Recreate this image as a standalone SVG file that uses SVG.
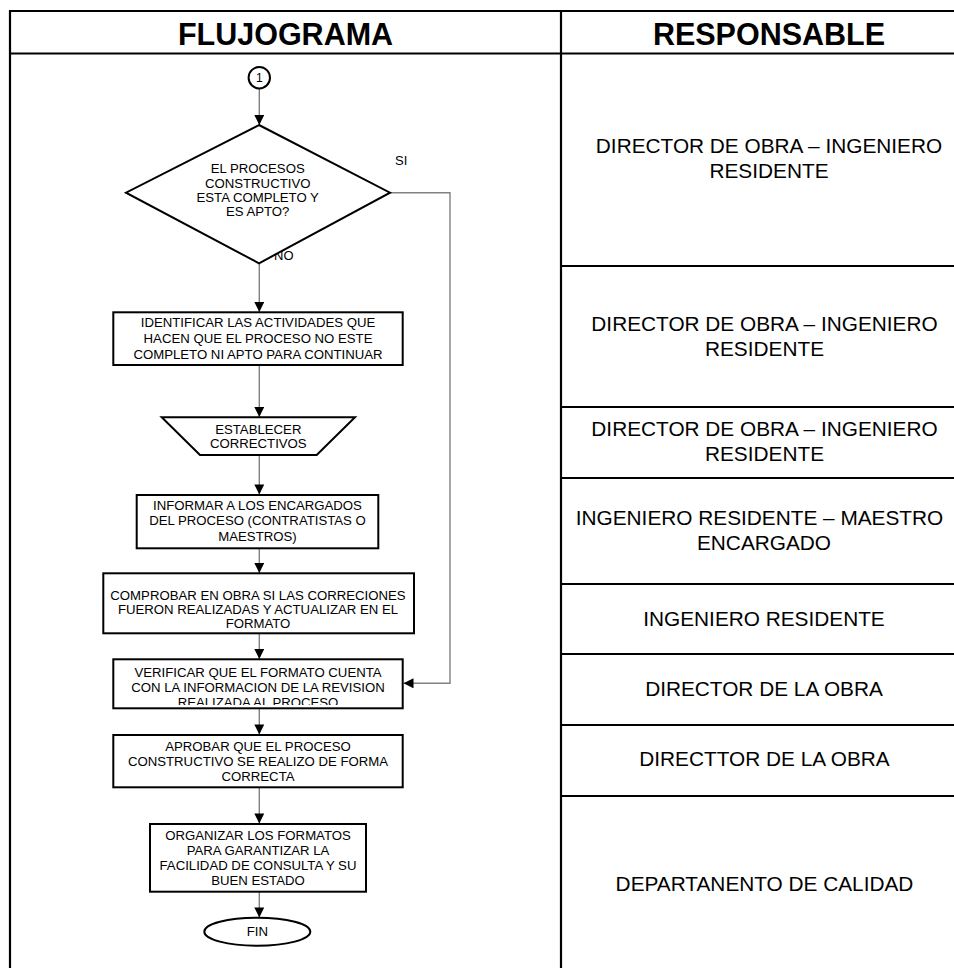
<svg xmlns="http://www.w3.org/2000/svg" width="954" height="968" viewBox="0 0 954 968">
<style>
  text { font-family: "Liberation Sans", Arial, sans-serif; fill: #000; }
  .hdr { font-size: 30.5px; font-weight: bold; text-anchor: middle; }
  .resp { font-size: 20.8px; text-anchor: middle; }
  .node { font-size: 13.2px; text-anchor: middle; }
  .lbl { font-size: 13px; }
  .grid { stroke: #000; stroke-width: 2.2; fill: none; }
  .shape { fill: #fff; stroke: #000; stroke-width: 2; }
  .conn { stroke: #808080; stroke-width: 1.4; fill: none; marker-end: url(#arrow); }
</style>
<defs>
  <marker id="arrow" viewBox="0 0 10 10" refX="10" refY="5" markerWidth="11" markerHeight="10" markerUnits="userSpaceOnUse" orient="auto">
    <path d="M0,0 L10,5 L0,10 z" fill="#000"/>
  </marker>
  <clipPath id="clipVer">
    <rect x="113" y="659" width="290" height="46"/>
  </clipPath>
</defs>

<g id="table">
  <line class="grid" x1="10" y1="11" x2="954" y2="11"/>
  <line class="grid" x1="10" y1="10" x2="10" y2="968"/>
  <line class="grid" x1="561" y1="10" x2="561" y2="968"/>
  <line class="grid" x1="10" y1="53.5" x2="954" y2="53.5"/>
  <line class="grid" x1="561" y1="266" x2="954" y2="266"/>
  <line class="grid" x1="561" y1="407" x2="954" y2="407"/>
  <line class="grid" x1="561" y1="478" x2="954" y2="478"/>
  <line class="grid" x1="561" y1="584" x2="954" y2="584"/>
  <line class="grid" x1="561" y1="654" x2="954" y2="654"/>
  <line class="grid" x1="561" y1="725" x2="954" y2="725"/>
  <line class="grid" x1="561" y1="796" x2="954" y2="796"/>
  <text class="hdr" x="285.5" y="44.5">FLUJOGRAMA</text>
  <text class="hdr" x="769" y="44.5">RESPONSABLE</text>
</g>

<g id="responsables">
  <text class="resp" x="769" y="153">DIRECTOR DE OBRA – INGENIERO</text>
  <text class="resp" x="769" y="178">RESIDENTE</text>
  <text class="resp" x="764.5" y="331">DIRECTOR DE OBRA – INGENIERO</text>
  <text class="resp" x="764.5" y="355.5">RESIDENTE</text>
  <text class="resp" x="764.5" y="436">DIRECTOR DE OBRA – INGENIERO</text>
  <text class="resp" x="764.5" y="460.5">RESIDENTE</text>
  <text class="resp" x="759.5" y="525">INGENIERO RESIDENTE – MAESTRO</text>
  <text class="resp" x="764" y="550">ENCARGADO</text>
  <text class="resp" x="764" y="626">INGENIERO RESIDENTE</text>
  <text class="resp" x="764" y="696">DIRECTOR DE LA OBRA</text>
  <text class="resp" x="764.5" y="766">DIRECTTOR DE LA OBRA</text>
  <text class="resp" x="764.5" y="890.5">DEPARTANENTO DE CALIDAD</text>
</g>

<g id="connectors">
  <line class="conn" x1="259.3" y1="88.5" x2="259.3" y2="125"/>
  <line class="conn" x1="259.3" y1="263.5" x2="259.3" y2="312"/>
  <line class="conn" x1="259.3" y1="365" x2="259.3" y2="417"/>
  <line class="conn" x1="259.3" y1="455" x2="259.3" y2="494.5"/>
  <line class="conn" x1="259.3" y1="548.5" x2="259.3" y2="573"/>
  <line class="conn" x1="259.3" y1="633.5" x2="259.3" y2="659"/>
  <line class="conn" x1="259.3" y1="708.5" x2="259.3" y2="734.5"/>
  <line class="conn" x1="259.3" y1="787.5" x2="259.3" y2="823.5"/>
  <line class="conn" x1="259.3" y1="892" x2="259.3" y2="917.5"/>
  <polyline class="conn" points="390,192.7 450,192.7 450,683.3 403.5,683.3"/>
  <text class="lbl" x="395" y="165">SI</text>
  <text class="lbl" x="274" y="260">NO</text>
</g>

<g id="start">
  <circle class="shape" cx="259.3" cy="77.7" r="10.7"/>
  <text class="node" x="259.3" y="82.3" style="font-size:12px">1</text>
</g>

<g id="decision">
  <polygon class="shape" points="259,125 390,192.7 259,263.3 126,192.7"/>
  <text class="node" x="257.7" y="173.3">EL PROCESOS</text>
  <text class="node" x="257.7" y="187.7">CONSTRUCTIVO</text>
  <text class="node" x="257.7" y="201.7">ESTA COMPLETO Y</text>
  <text class="node" x="257.7" y="216">ES APTO?</text>
</g>

<g id="identificar">
  <rect class="shape" x="113.3" y="312.3" width="289.4" height="52.7"/>
  <text class="node" x="258" y="327.3">IDENTIFICAR LAS ACTIVIDADES QUE</text>
  <text class="node" x="258" y="343.3">HACEN QUE EL PROCESO NO ESTE</text>
  <text class="node" x="258" y="358.7">COMPLETO NI APTO PARA CONTINUAR</text>
</g>

<g id="establecer">
  <polygon class="shape" points="161.7,417.3 355,417.3 316.7,455 200,455"/>
  <text class="node" x="258.3" y="434">ESTABLECER</text>
  <text class="node" x="258.3" y="448.3">CORRECTIVOS</text>
</g>

<g id="informar">
  <rect class="shape" x="136.7" y="495" width="241.6" height="53.3"/>
  <text class="node" x="257.5" y="509.5">INFORMAR A LOS ENCARGADOS</text>
  <text class="node" x="257.5" y="525">DEL PROCESO (CONTRATISTAS O</text>
  <text class="node" x="257.5" y="541">MAESTROS)</text>
</g>

<g id="comprobar">
  <rect class="shape" x="103.3" y="573.3" width="310.7" height="60"/>
  <text class="node" x="258" y="599.5">COMPROBAR EN OBRA SI LAS CORRECIONES</text>
  <text class="node" x="258" y="613.5">FUERON REALIZADAS Y ACTUALIZAR EN EL</text>
  <text class="node" x="258" y="627.5">FORMATO</text>
</g>

<g id="verificar">
  <rect class="shape" x="113.3" y="659.3" width="289.4" height="49"/>
  <g clip-path="url(#clipVer)">
    <text class="node" x="258" y="676.7">VERIFICAR QUE EL FORMATO CUENTA</text>
    <text class="node" x="258" y="691.5">CON LA INFORMACION DE LA REVISION</text>
    <text class="node" x="258" y="706.8">REALIZADA AL PROCESO</text>
  </g>
</g>

<g id="aprobar">
  <rect class="shape" x="113.3" y="735" width="289.4" height="52.3"/>
  <text class="node" x="258" y="751">APROBAR QUE EL PROCESO</text>
  <text class="node" x="258" y="766">CONSTRUCTIVO SE REALIZO DE FORMA</text>
  <text class="node" x="258" y="780.5">CORRECTA</text>
</g>

<g id="organizar">
  <rect class="shape" x="150" y="824" width="216" height="67.7"/>
  <text class="node" x="258" y="840">ORGANIZAR LOS FORMATOS</text>
  <text class="node" x="258" y="855">PARA GARANTIZAR LA</text>
  <text class="node" x="258" y="870">FACILIDAD DE CONSULTA Y SU</text>
  <text class="node" x="258" y="885">BUEN ESTADO</text>
</g>

<g id="fin">
  <ellipse class="shape" cx="257.3" cy="931.7" rx="53" ry="14"/>
  <text class="node" x="257.3" y="936.3">FIN</text>
</g>
</svg>
